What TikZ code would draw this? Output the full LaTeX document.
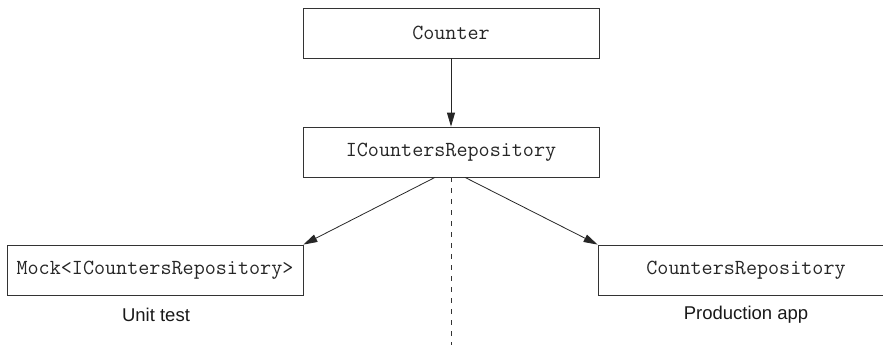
\documentclass[tikz,border=0pt]{standalone}
\usepackage{fontspec}
\setsansfont{Liberation Sans}
\usetikzlibrary{arrows.meta}
\begin{document}
\begin{tikzpicture}[x=1pt,y=-1pt,
  classbox/.style={draw=black!80, line width=0.8pt, minimum width=296pt, minimum height=50pt, inner sep=0pt,
    font=\ttfamily\fontsize{21.5}{24}\selectfont, text=black!85},
  caption/.style={font=\sffamily\fontsize{18.5}{22}\selectfont, inner sep=0pt, text=black!90},
  dep/.style={draw=black!85, line width=0.8pt, -{Triangle[length=14pt,width=8pt]}},
  divider/.style={draw=black!80, line width=0.8pt, dash pattern=on 5pt off 6pt}]
\clip (0,0) rectangle (883,345);
\node[classbox] (counter) at (451,33) {Counter};
\node[classbox] (icr) at (451,152) {ICountersRepository};
\node[classbox] (mock) at (155,270) {Mock<ICountersRepository>};
\node[classbox] (cr) at (746,270) {CountersRepository};
\node[caption] (unit) at (156,315) {Unit test};
\node[caption] (prod) at (746,315) {Production app};
\coordinate (icrL) at ([xshift=-16pt]icr.south);
\coordinate (icrR) at ([xshift=14pt]icr.south);
\coordinate (dashend) at (451,345);
\draw[dep] (counter) -- (icr);
\draw[dep] (icrL) -- (mock.north east);
\draw[dep] (icrR) -- (cr.north west);
\draw[divider] (icr.south) -- (dashend);
\end{tikzpicture}
\end{document}
